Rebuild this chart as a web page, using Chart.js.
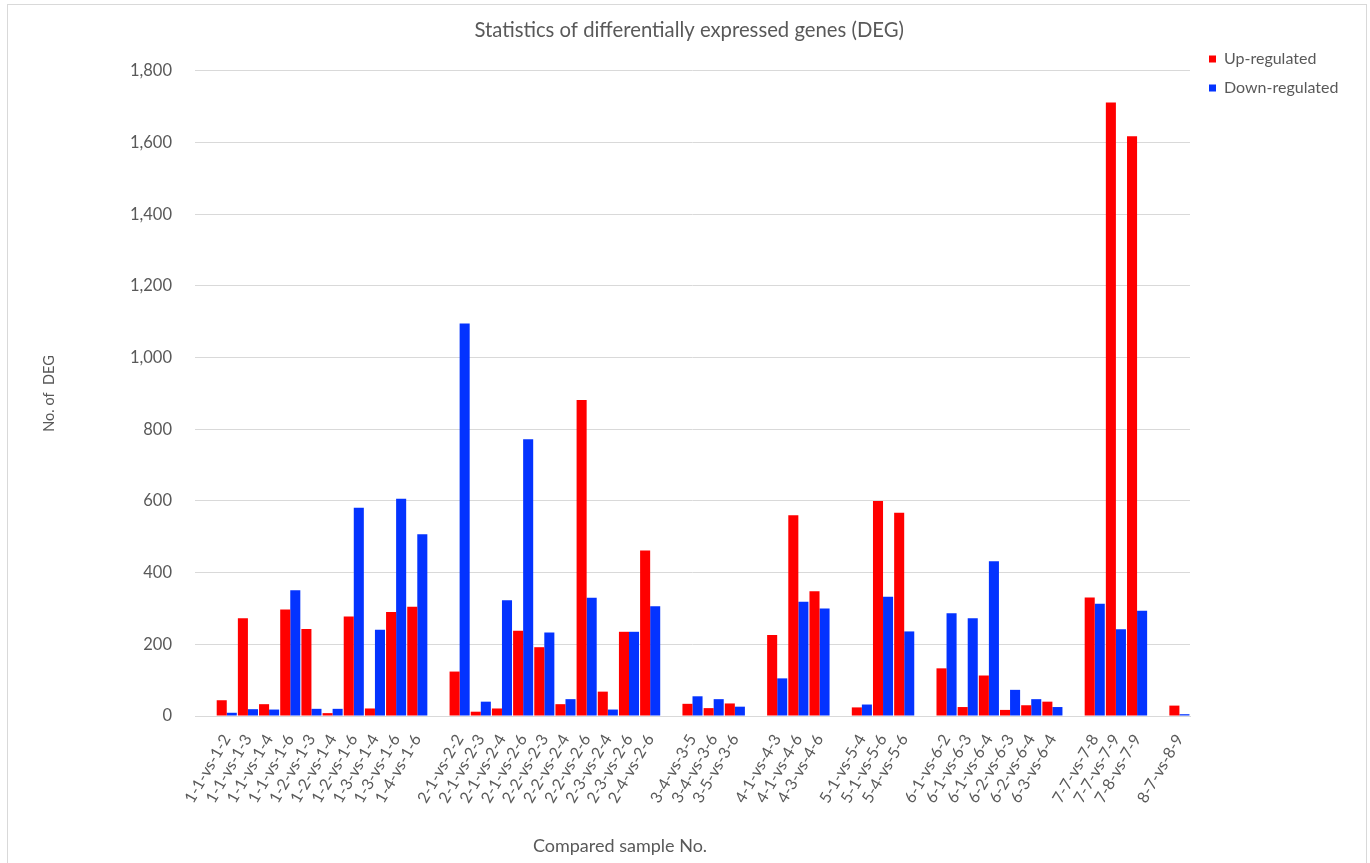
<!DOCTYPE html>
<html>
<head>
<meta charset="utf-8">
<title>Statistics of differentially expressed genes (DEG)</title>
<script src="https://cdn.jsdelivr.net/npm/chart.js@4.4.1/dist/chart.umd.min.js"></script>
<style>
  html, body { margin: 0; padding: 0; background: #ffffff; }
  #wrap { width: 1370px; height: 863px; position: relative; }
</style>
</head>
<body>
<div id="wrap"><canvas id="deg" width="1370" height="863"></canvas></div>
<script>
// Comparison names; empty entries separate the sample groups on the axis.
const categories = [
  '',
  '1-1-vs-1-2', '1-1-vs-1-3', '1-1-vs-1-4', '1-1-vs-1-6', '1-2-vs-1-3',
  '1-2-vs-1-4', '1-2-vs-1-6', '1-3-vs-1-4', '1-3-vs-1-6', '1-4-vs-1-6',
  '',
  '2-1-vs-2-2', '2-1-vs-2-3', '2-1-vs-2-4', '2-1-vs-2-6', '2-2-vs-2-3',
  '2-2-vs-2-4', '2-2-vs-2-6', '2-3-vs-2-4', '2-3-vs-2-6', '2-4-vs-2-6',
  '',
  '3-4-vs-3-5', '3-4-vs-3-6', '3-5-vs-3-6',
  '',
  '4-1-vs-4-3', '4-1-vs-4-6', '4-3-vs-4-6',
  '',
  '5-1-vs-5-4', '5-1-vs-5-6', '5-4-vs-5-6',
  '',
  '6-1-vs-6-2', '6-1-vs-6-3', '6-1-vs-6-4', '6-2-vs-6-3', '6-2-vs-6-4', '6-3-vs-6-4',
  '',
  '7-7-vs-7-8', '7-7-vs-7-9', '7-8-vs-7-9',
  '',
  '8-7-vs-8-9'
];

// Number of up-regulated genes per comparison.
const upRegulated = [
  null,
  44, 273, 33, 297, 243, 8, 278, 21, 290, 305,
  null,
  124, 12, 21, 238, 192, 33, 882, 68, 235, 462,
  null,
  34, 22, 35,
  null,
  226, 560, 348,
  null,
  24, 600, 567,
  null,
  133, 25, 113, 17, 30, 40,
  null,
  331, 1712, 1618,
  null,
  29
];

// Number of down-regulated genes per comparison.
const downRegulated = [
  null,
  9, 19, 18, 351, 20, 20, 581, 241, 606, 507,
  null,
  1095, 40, 323, 772, 233, 47, 330, 18, 235, 306,
  null,
  55, 47, 26,
  null,
  105, 319, 300,
  null,
  32, 333, 236,
  null,
  287, 273, 432, 73, 47, 25,
  null,
  313, 242, 294,
  null,
  5
];

// Value axis ticks.
const yTicks = [0, 200, 400, 600, 800, 1000, 1200, 1400, 1600, 1800];

const TEXT = '#595959';
const GRID = '#d9d9d9';
const FONT = 'Lato';

// Plot area edges on the canvas.
const PLOT_LEFT = 195;
const PLOT_RIGHT = 1190;
const PLOT_BOTTOM = 716;
const CANVAS_W = 1370;
const CANVAS_H = 863;
const PAD_LEFT = 36;

// Legend metrics, used to size the right-hand margin.
const LEGEND_FONT_SIZE = 16;
const LEGEND_BOX = 7;
const LEGEND_PAD = 13;
const LEGEND_SHIFT = 6;
const measureCtx = document.createElement('canvas').getContext('2d');
measureCtx.font = LEGEND_FONT_SIZE + 'px ' + FONT;
const legendTextW = Math.max(
  measureCtx.measureText('Up-regulated').width,
  measureCtx.measureText('Down-regulated').width
);
const legendWidth = LEGEND_PAD + LEGEND_BOX + LEGEND_FONT_SIZE / 2 + legendTextW + 10;
const padRight = Math.max(0, CANVAS_W - PLOT_RIGHT - legendWidth);

// Nudges the legend a few pixels away from the plot area.
const legendGap = {
  id: 'legendGap',
  afterLayout(chart) {
    if (chart.legend) {
      chart.legend.left += LEGEND_SHIFT;
      chart.legend.right += LEGEND_SHIFT;
    }
  }
};

// Light frame around the chart and the x-axis title.
const decorations = {
  id: 'decorations',
  afterDraw(chart) {
    const ctx = chart.ctx;
    ctx.save();
    ctx.strokeStyle = GRID;
    ctx.lineWidth = 1;
    ctx.strokeRect(7.5, 4.5, 1359, 870);
    ctx.fillStyle = TEXT;
    ctx.font = '18px ' + FONT;
    ctx.textAlign = 'center';
    ctx.textBaseline = 'middle';
    ctx.fillText('Compared sample No.', 620, 846);
    ctx.restore();
  }
};

new Chart(document.getElementById('deg'), {
  type: 'bar',
  data: {
    labels: categories,
    datasets: [
      {
        label: 'Up-regulated',
        data: upRegulated,
        backgroundColor: '#ff0000',
        borderWidth: 0
      },
      {
        label: 'Down-regulated',
        data: downRegulated,
        backgroundColor: '#0433ff',
        borderWidth: 0
      }
    ]
  },
  options: {
    responsive: false,
    animation: false,
    devicePixelRatio: 1,
    layout: { padding: { left: PAD_LEFT, right: padRight, top: 0, bottom: 0 } },
    datasets: {
      bar: { categoryPercentage: 0.95, barPercentage: 1.0 }
    },
    plugins: {
      title: {
        display: true,
        text: 'Statistics of differentially expressed genes (DEG)',
        color: TEXT,
        font: { family: FONT, size: 20.3, weight: 'normal', lineHeight: 1.2 },
        padding: { top: 17.8, bottom: 28.8 }
      },
      legend: {
        position: 'right',
        align: 'start',
        title: {
          display: true,
          text: '',
          font: { family: FONT, size: 14, lineHeight: 1.2 },
          padding: { top: 21.2, bottom: 0 }
        },
        labels: {
          boxWidth: LEGEND_BOX,
          boxHeight: LEGEND_BOX,
          padding: LEGEND_PAD,
          color: TEXT,
          font: { family: FONT, size: LEGEND_FONT_SIZE }
        }
      },
      tooltip: { enabled: false }
    },
    scales: {
      x: {
        grid: { display: false, drawTicks: false },
        border: { display: true, color: GRID, width: 1 },
        ticks: {
          autoSkip: false,
          minRotation: 60,
          maxRotation: 60,
          padding: 15,
          color: TEXT,
          font: { family: FONT, size: 16 }
        },
        afterFit(scale) { scale.height = CANVAS_H - PLOT_BOTTOM; }
      },
      y: {
        min: yTicks[0],
        max: yTicks[yTicks.length - 1],
        afterBuildTicks(scale) { scale.ticks = yTicks.map(v => ({ value: v })); },
        grid: { color: GRID, lineWidth: 1, drawTicks: false },
        border: { display: false },
        ticks: {
          padding: 23,
          color: TEXT,
          font: { family: FONT, size: 16.5 },
          callback: v => Number(v).toLocaleString('en-US')
        },
        title: {
          display: true,
          text: 'No. of  DEG',
          color: TEXT,
          font: { family: FONT, size: 14.5, lineHeight: 1.2 },
          padding: { top: 5, bottom: 4 }
        },
        afterFit(scale) { scale.width = PLOT_LEFT - PAD_LEFT; }
      }
    }
  },
  plugins: [legendGap, decorations]
});
</script>
</body>
</html>
